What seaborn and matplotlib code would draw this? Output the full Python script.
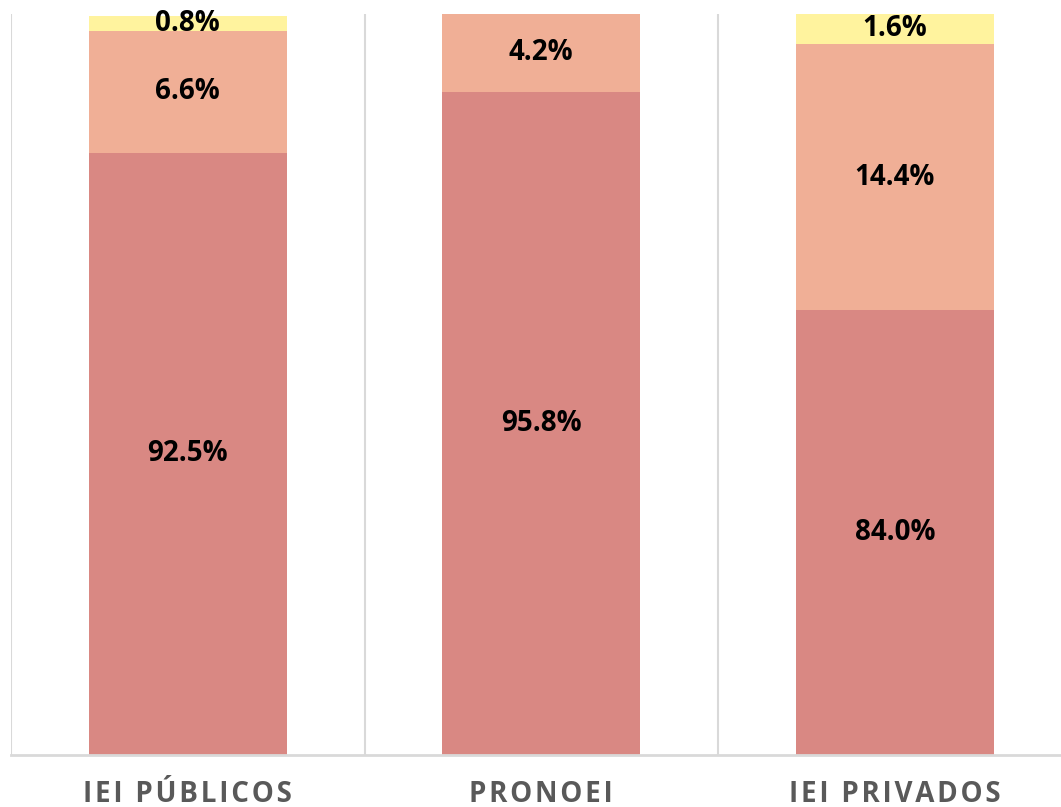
import numpy as np
import pandas as pd
import matplotlib.pyplot as plt
import seaborn as sns

categories = ['IEI PÚBLICOS', 'PRONOEI', 'IEI PRIVADOS']
serie_1 = [92.5, 95.8, 84.0]
serie_2 = [6.6, 4.2, 14.4]
serie_3 = [0.8, 0.0, 1.6]

colors = ['#D98883', '#F0AF96', '#FFF39E']
y_min = 60

sns.set_theme(style='white')
plt.rcParams['font.family'] = ['Open Sans', 'DejaVu Sans']

fig = plt.figure(figsize=(10.61, 8.07), dpi=100)
ax = fig.add_axes([11 / 1061, 1 - 755 / 807, 1060.5 / 1061, (755 - 14) / 807])

series = [serie_1, serie_2, serie_3]
cum = np.cumsum(np.array(series), axis=0)

# draw tallest stack first so the lower segments sit on top
for i in reversed(range(len(series))):
    df = pd.DataFrame({'cat': categories, 'val': cum[i]})
    sns.barplot(data=df, x='cat', y='val', color=colors[i], width=0.56,
                saturation=1, ax=ax, edgecolor='none', linewidth=0)

for i in range(len(series)):
    for j in range(len(categories)):
        v = series[i][j]
        if v <= 0:
            continue
        top = cum[i][j]
        bottom = max(top - v, y_min)
        ax.text(j, (top + bottom) / 2, f'{v:.1f}%', ha='center', va='center',
                fontsize=20, fontweight='bold', color='black')

for x in [-0.5, 0.5, 1.5, 2.5]:
    ax.axvline(x, color='#D9D9D9', lw=1.5, zorder=0)

ax.set_xlim(-0.5, 2.5)
ax.set_ylim(y_min, 100)
ax.set_yticks([])
ax.set_xlabel('')
ax.set_ylabel('')
for s in ['top', 'right', 'left']:
    ax.spines[s].set_visible(False)
ax.spines['bottom'].set_color('#D9D9D9')
ax.spines['bottom'].set_linewidth(2)

spaced = ['\u200a'.join(c) for c in categories]
ax.set_xticks(range(len(categories)))
ax.set_xticklabels(spaced, fontsize=20, fontweight='bold', color='#595959')
ax.tick_params(axis='x', length=0, pad=18)

plt.savefig('out.png', dpi=100)
